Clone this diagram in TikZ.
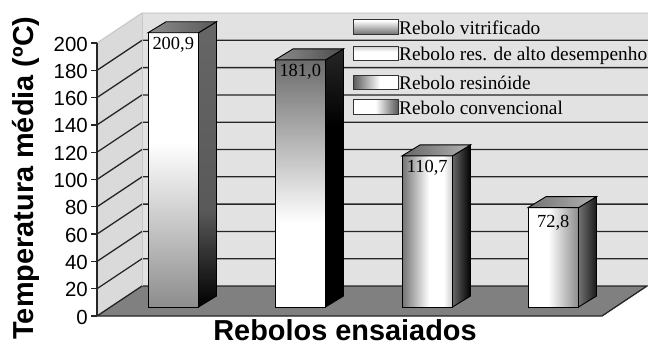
\documentclass[tikz,border=0pt]{standalone}
\usepackage{fontspec}
\setmainfont{Liberation Serif}
\setsansfont{Liberation Sans}
\definecolor{g10}{gray}{0.10}
\definecolor{g15}{gray}{0.15}
\definecolor{g20}{gray}{0.20}
\definecolor{g30}{gray}{0.30}
\definecolor{g35}{gray}{0.35}
\definecolor{g40}{gray}{0.40}
\definecolor{g42}{gray}{0.42}
\definecolor{g45}{gray}{0.45}
\definecolor{g55}{gray}{0.55}
\definecolor{g60}{gray}{0.60}
\definecolor{g70}{gray}{0.70}
\definecolor{g75}{gray}{0.75}
\definecolor{g78}{gray}{0.78}
\definecolor{g80}{gray}{0.80}
\definecolor{g85}{gray}{0.85}
\definecolor{gline}{gray}{0.15}
\definecolor{wallback}{gray}{0.885}
\definecolor{wallleft}{gray}{0.855}
\definecolor{floorc}{gray}{0.50}
% bar 1
\pgfdeclareverticalshading{fAfront}{100bp}{color(0bp)=(g55); color(25bp)=(g55); color(38bp)=(g75); color(55bp)=(white); color(100bp)=(white)}
\pgfdeclareverticalshading{fAside}{100bp}{color(0bp)=(black); color(25bp)=(black); color(42bp)=(g35); color(75bp)=(g40); color(100bp)=(g40)}
\pgfdeclarehorizontalshading{fAtop}{100bp}{color(0bp)=(g55); color(25bp)=(g55); color(75bp)=(g35); color(100bp)=(g35)}
% bar 2
\pgfdeclareverticalshading{fBfront}{100bp}{color(0bp)=(white); color(25bp)=(white); color(42bp)=(white); color(75bp)=(g42); color(100bp)=(g42)}
\pgfdeclareverticalshading{fBside}{100bp}{color(0bp)=(black); color(25bp)=(black); color(60bp)=(black); color(75bp)=(g15); color(100bp)=(g15)}
\pgfdeclarehorizontalshading{fBtop}{100bp}{color(0bp)=(g55); color(25bp)=(g55); color(75bp)=(g30); color(100bp)=(g30)}
% bar 3
\pgfdeclarehorizontalshading{fCfront}{100bp}{color(0bp)=(g45); color(25bp)=(g45); color(52bp)=(white); color(66bp)=(white); color(75bp)=(g80); color(100bp)=(g80)}
\pgfdeclarehorizontalshading{fCside}{100bp}{color(0bp)=(g40); color(25bp)=(g40); color(75bp)=(black); color(100bp)=(black)}
\pgfdeclarehorizontalshading{fCtop}{100bp}{color(0bp)=(g40); color(25bp)=(g40); color(75bp)=(g70); color(100bp)=(g70)}
% bar 4
\pgfdeclarehorizontalshading{fDfront}{100bp}{color(0bp)=(white); color(25bp)=(white); color(45bp)=(white); color(75bp)=(g55); color(100bp)=(g55)}
\pgfdeclarehorizontalshading{fDside}{100bp}{color(0bp)=(g45); color(25bp)=(g45); color(75bp)=(g10); color(100bp)=(g10)}
\pgfdeclarehorizontalshading{fDtop}{100bp}{color(0bp)=(g45); color(25bp)=(g45); color(75bp)=(g70); color(100bp)=(g70)}
% legend swatches
\pgfdeclareverticalshading{sA}{100bp}{color(0bp)=(g45); color(25bp)=(g45); color(70bp)=(white); color(100bp)=(white)}
\pgfdeclareverticalshading{sB}{100bp}{color(0bp)=(white); color(25bp)=(white); color(55bp)=(white); color(75bp)=(g80); color(100bp)=(g80)}
\pgfdeclarehorizontalshading{sC}{100bp}{color(0bp)=(g35); color(25bp)=(g35); color(55bp)=(white); color(100bp)=(white)}
\pgfdeclarehorizontalshading{sD}{100bp}{color(0bp)=(white); color(50bp)=(white); color(75bp)=(g35); color(100bp)=(g35)}

\newcommand\chartbar[8]{% #1 name, #2 x-left, #3 value, #4 front, #5 side, #6 top, #7 label, #8 label offset
  \pgfmathsetmacro\bl{#2}
  \pgfmathsetmacro\br{#2+50.5}
  \pgfmathsetmacro\bt{307-#3*1.365}
  \path[shade,shading=#4,baredge] (\bl,\bt) rectangle (\br,307);
  \path[shade,shading=#5,baredge] (\br,307) -- (\br+18,296) -- (\br+18,\bt-11) -- (\br,\bt) -- cycle;
  \path[shade,shading=#6,baredge] (\bl,\bt) -- (\bl+18,\bt-11) -- (\br+18,\bt-11) -- (\br,\bt) -- cycle;
  \node[barlabel] (#1) at (\bl+25.25,\bt+#8) {#7};
}

\begin{document}
\begin{tikzpicture}[x=1bp,y=-1bp,
  grid/.style={draw=gline,line width=1.3bp},
  baredge/.style={draw=black,line width=0.9bp},
  barlabel/.style={anchor=north,inner sep=0pt,font=\fontsize{18.5}{18.5}\selectfont},
  ticklabel/.style={anchor=east,inner sep=0pt,font=\sffamily\fontsize{20.5}{20.5}\selectfont},
  legtext/.style={anchor=base west,inner sep=0pt,font=\fontsize{19.4}{19.4}\selectfont},
  swatch/.style={shade,draw=g20,line width=0.9bp},
  axistitle/.style={inner sep=0pt,font=\sffamily\bfseries\fontsize{29}{29}\selectfont}]
\useasboundingbox (0,0) rectangle (648,346);
\fill[white] (0,0) rectangle (648,346);
% walls
\fill[wallback] (142,13) rectangle (648,286);
\fill[wallleft] (97,43) -- (142,13) -- (142,286) -- (97,316) -- cycle;
% floor
\filldraw[fill=floorc,grid] (97,316) -- (602,316) -- (647,286) -- (142,286) -- cycle;
% gridlines
\foreach \k in {1,...,9} {
  \draw[grid] (97,{316-27.3*\k}) -- (142,{286-27.3*\k}) -- (648,{286-27.3*\k});
}
\draw[g78,line width=1bp] (97,43) -- (142,13) -- (648,13);
\draw[g78,line width=1bp] (142,13) -- (142,286);
% axis and ticks
\draw[grid] (97,43) -- (97,316);
\foreach \k in {0,...,10} {
  \draw[grid] (91,{316-27.3*\k}) -- (97,{316-27.3*\k});
  \pgfmathtruncatemacro\val{20*\k}
  \node[ticklabel] (tick\k) at (88,{317-27.3*\k}) {\val};
}
% bars
\chartbar{vA}{148}{200.9}{fAfront}{fAside}{fAtop}{200,9}{4}
\chartbar{vB}{275}{181.0}{fBfront}{fBside}{fBtop}{181,0}{4}
\chartbar{vC}{402}{110.7}{fCfront}{fCside}{fCtop}{110,7}{4}
\chartbar{vD}{528}{72.8}{fDfront}{fDside}{fDtop}{72,8}{7}
% legend
\path[swatch,shading=sA] (353,19) rectangle (398,34);
\node[legtext] (legA) at (399,34) {Rebolo vitrificado};
\path[swatch,shading=sB] (353,46) rectangle (398,60);
\node[legtext] (legB) at (399,60) {Rebolo res. de alto desempenho};
\path[swatch,shading=sC] (353,75) rectangle (398,89);
\node[legtext] (legC) at (399,89) {Rebolo resinóide};
\path[swatch,shading=sD] (353,99) rectangle (398,114);
\node[legtext] (legD) at (399,114) {Rebolo convencional};
% axis titles
\node[axistitle,anchor=base,rotate=90] (ytitle) at (33,178) {Temperatura média (ºC)};
\node[axistitle,anchor=base] (xtitle) at (345,340.5) {Rebolos ensaiados};
\end{tikzpicture}
\end{document}
